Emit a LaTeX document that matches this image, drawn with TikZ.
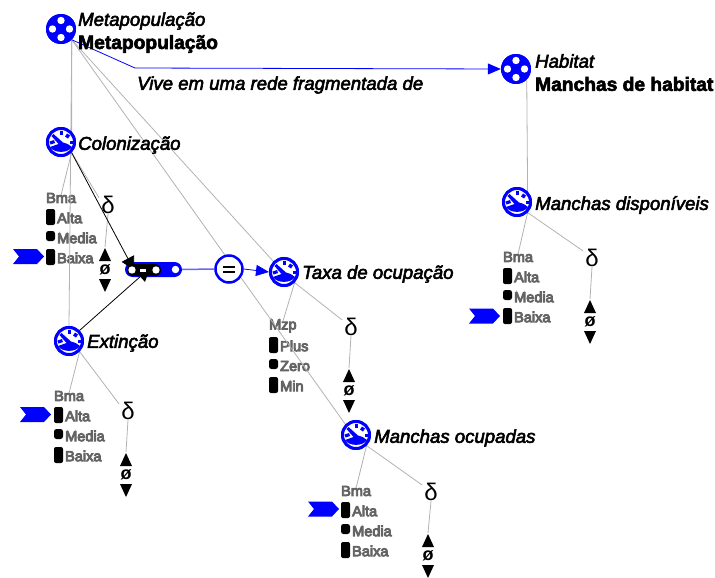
\documentclass[tikz,border=0pt]{standalone}
\usepackage{fontspec}
\setmainfont{Liberation Sans}
\newfontfamily\fbfont[FakeBold=6]{Liberation Sans}
\newfontfamily\fbital[FakeBold=3]{Liberation Sans Italic}
\newfontfamily\fbbold[FakeBold=3]{Liberation Sans Bold}
\usetikzlibrary{arrows.meta}
\definecolor{qblue}{RGB}{0,0,255}
\definecolor{lnk}{RGB}{178,178,178}
\definecolor{valtxt}{RGB}{100,100,100}
\tikzset{
  x=1pt,y=-1pt,
  disc/.style={circle,minimum size=30pt,inner sep=0pt,fill=qblue},
  gauge/.style={circle,minimum size=27pt,inner sep=0pt,draw=qblue,line width=3pt,fill=white},
  names/.style={anchor=west,inner sep=0pt,yshift=-2pt,font=\fontsize{18.6}{20}\fbital},
  bname/.style={anchor=west,inner sep=0pt,yshift=-2pt,font=\fontsize{19.2}{20}\fbbold},
  vallabel/.style={anchor=west,inner sep=0pt,text=valtxt,font=\fontsize{14.5}{16}\fbfont},
  deltan/.style={inner sep=0pt,font=\fontsize{24}{25}\selectfont},
  zeron/.style={inner sep=0pt,font=\fontsize{18}{19}\selectfont\bfseries},
  glink/.style={draw=lnk,line width=0.8pt},
  blacklink/.style={draw=black,line width=0.8pt,-{Triangle[length=13pt,width=14pt]}},
  bluelink/.style={draw=qblue,line width=0.8pt,-{Triangle[length=13pt,width=11pt]}},
}
\newcommand{\entityicon}[2]{% name, position
  \node[disc] (#1) at (#2) {};
  \foreach \a in {0,90,180,270}{\fill[white] (#1.center) ++(\a:8.5) circle (3.7);}
}
\newcommand{\gaugeicon}[2]{%
  \node[gauge] (#1) at (#2) {};
  \begin{scope}[shift={(#2)}]
    \fill[qblue] (-11,5) -- (-2.5,2) -- (-9.5,-6) -- (-7.5,-8) -- (2,0.5) .. controls (6,1.5) and (9,3) .. (11,5) .. controls (7,11.5) and (-7,11.5) .. (-11,5) -- cycle;
    \fill[qblue] (-1.5,-11.5) rectangle (1.5,-7);
    \fill[qblue] (6,-8.5) -- (9,-6.5) -- (7,-3.5) -- (4,-5.5) -- cycle;
    \fill[qblue] (9,-1.5) rectangle (11.5,2);
    \fill[qblue] (-11.5,-0.5) -- (-7,-2) -- (-6,1) -- (-10.5,2.5) -- cycle;
  \end{scope}
}
\newcommand{\vals}[7]{% prefix,x,y,title,v1,v2,v3
  \node[vallabel] (#1t) at (#2,#3) {#4};
  \fill[black,rounded corners=2pt] (#2,#3+11) rectangle ++(9,16);
  \node[vallabel] (#1a) at (#2+11,#3+20) {#5};
  \fill[black,rounded corners=2.5pt] (#2,#3+33) rectangle ++(9,10);
  \node[vallabel] (#1b) at (#2+11,#3+40) {#6};
  \fill[black,rounded corners=2pt] (#2,#3+51) rectangle ++(9,16);
  \node[vallabel] (#1c) at (#2+11,#3+60) {#7};
}
\newcommand{\marker}[3]{% name,x,y (left, centre)
  \fill[qblue] (#2,#3-7.5) -- (#2+24,#3-7.5) -- (#2+31,#3) -- (#2+24,#3+7.5) -- (#2,#3+7.5) -- (#2+6,#3) -- cycle;
  \coordinate (#1) at (#2,#3);
}
\newcommand{\zeroq}[3]{% prefix,x,y
  \node[zeron] (#1z) at (#2,#3) {ø};
  \fill[black] (#2,#3-22) -- (#2+6,#3-9) -- (#2-6,#3-9) -- cycle;
  \fill[black] (#2,#3+22) -- (#2+6,#3+9) -- (#2-6,#3+9) -- cycle;
  \coordinate (#1top) at (#2,#3-23);
}
\begin{document}
\begin{tikzpicture}
\useasboundingbox (0,0) rectangle (715,578);
\coordinate (metaP) at (61,29);
\coordinate (habP) at (516,69);
\coordinate (colP) at (61,142);
\coordinate (extP) at (69,341);
\coordinate (taxP) at (284,272);
\coordinate (dispP) at (517,202);
\coordinate (ocuP) at (356,435);
\vals{c}{46}{198}{Bma}{Alta}{Media}{Baixa}
\vals{e}{54}{396}{Bma}{Alta}{Media}{Baixa}
\vals{t}{269}{326}{Mzp}{Plus}{Zero}{Min}
\vals{d}{503}{257}{Bma}{Alta}{Media}{Baixa}
\vals{o}{341}{491}{Bma}{Alta}{Media}{Baixa}
\node[deltan] (cdelta) at (108,205) {δ};
\node[deltan] (edelta) at (128,411) {δ};
\node[deltan] (tdelta) at (351,327) {δ};
\node[deltan] (ddelta) at (592,258) {δ};
\node[deltan] (odelta) at (431,492) {δ};
\zeroq{c}{105}{270}
\zeroq{e}{126}{475}
\zeroq{t}{349}{391}
\zeroq{d}{590}{322}
\zeroq{o}{428}{556}
\marker{cm}{13}{256.5}
\marker{em}{20}{414.5}
\marker{dm}{469}{316}
\marker{om}{308}{509}
\path (metaP) node[disc] (meta) {};
\path (habP) node[disc] (hab) {};
\path (colP) node[gauge] (col) {};
\path (extP) node[gauge] (ext) {};
\path (taxP) node[gauge] (tax) {};
\path (dispP) node[gauge] (disp) {};
\path (ocuP) node[gauge] (ocu) {};
% grey links
\draw[glink] (meta.south east) -- (col.north east);
\draw[glink] (meta.south east) -- (ext.north);
\draw[glink] (meta.south east) -- (tax.north west);
\draw[glink] (meta.south east) -- (ocu.north west);
\draw[glink] (hab.south east) -- (disp.north east);
\foreach \q/\p in {col/c,ext/e,tax/t,disp/d,ocu/o}{
  \draw[glink] (\q.south east) -- ([yshift=-2pt]\p t.north);
  \draw[glink] (\q.south east) -- ([xshift=-2pt,yshift=-2pt]\p delta.north west);
  \draw[glink] (\p delta.south) -- (\p top);
}
% engine
\node[inner sep=0pt,minimum width=57pt,minimum height=15pt,rounded corners=7.5pt,fill=qblue] (eng) at (153.5,269.5) {};
\fill[black,rounded corners=6pt] (127,264) rectangle (161,276);
\node[circle,minimum size=27pt,inner sep=0pt,draw=qblue,line width=2.5pt,fill=white] (eq) at (229,269) {};
\fill[black] (223,265.5) rectangle (235,268);
\fill[black] (223,270.5) rectangle (235,273);
\draw[draw=qblue!60,line width=1.5pt] (eng.east) -- (eq.west);
\draw[bluelink] (eq.east) -- (tax.west);
% causal
\coordinate (colIn) at (134,270);
\coordinate (extIn) at (150,268);
\draw[blacklink] (col.south east) -- (colIn);
\draw[blacklink] (ext.north east) -- (extIn);
\fill[white] (132,270) circle (3.7);
\fill[white] (156,270) circle (3.7);
\fill[white] (175.5,269.5) circle (3.7);
\fill[white] (140,268.5) rectangle (146,271.5);
% configuration
\coordinate (bend) at (135,68);
\draw[bluelink] (meta.south east) -- (bend) -- (hab.west);
% icons on top
\entityicon{meta}{metaP}
\entityicon{hab}{habP}
\gaugeicon{col}{colP}
\gaugeicon{ext}{extP}
\gaugeicon{tax}{taxP}
\gaugeicon{disp}{dispP}
\gaugeicon{ocu}{ocuP}
% names
\node[names] (n1) at (78,19) {Metapopulação};
\node[bname] (n2) at (78,42) {Metapopulação};
\node[names] (n3) at (535,59) {Habitat};
\node[bname] (n4) at (535,82) {Manchas de habitat};
\node[names] (n5) at (78,143) {Colonização};
\node[names] (n6) at (87,341) {Extinção};
\node[names] (n7) at (302,272) {Taxa de ocupação};
\node[names] (n8) at (535,203) {Manchas disponíveis};
\node[names] (n9) at (374,436) {Manchas ocupadas};
\node[names] (n10) at (137,83) {Vive em uma rede fragmentada de};
\end{tikzpicture}
\end{document}
